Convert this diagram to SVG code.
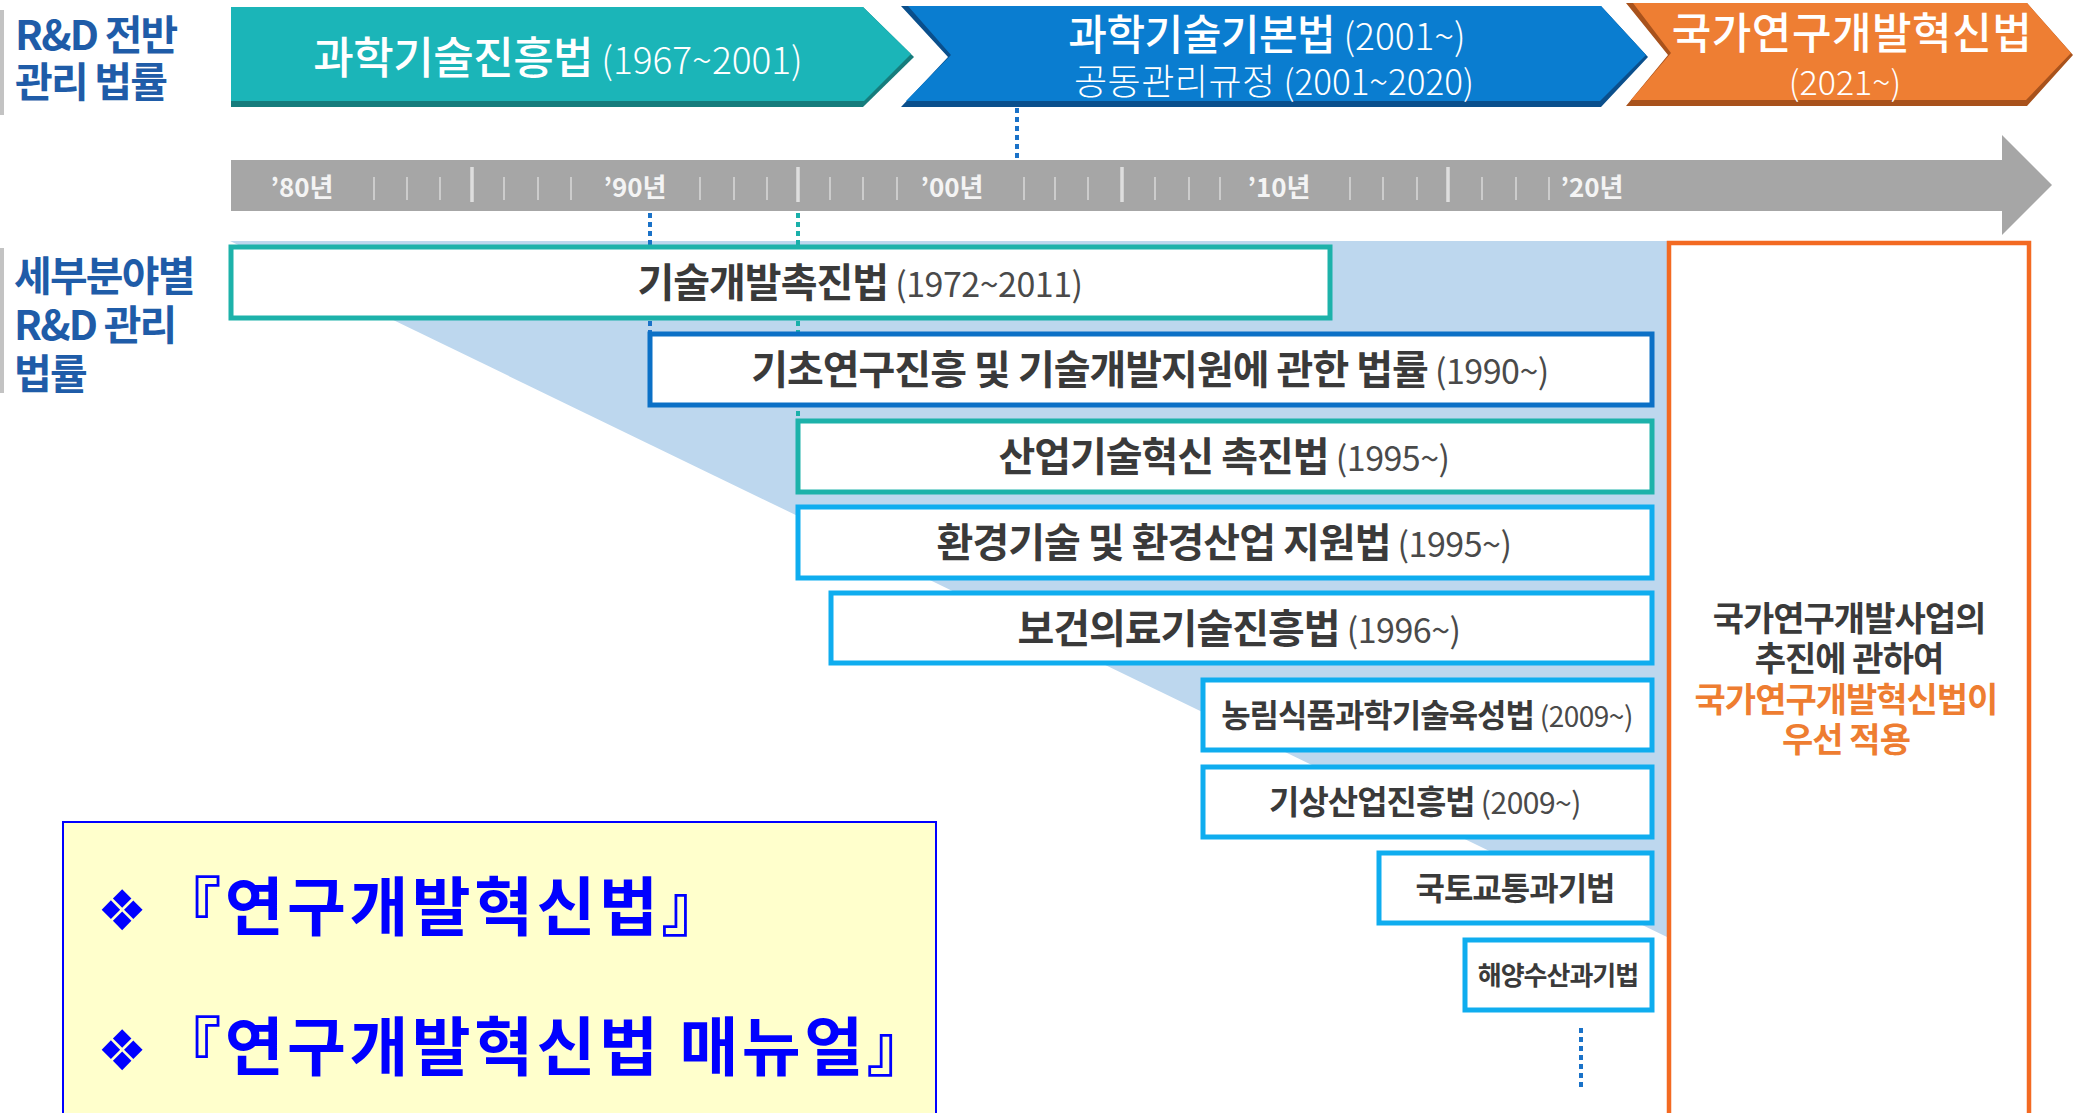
<svg xmlns="http://www.w3.org/2000/svg" width="2073" height="1113" viewBox="0 0 2073 1113">
<style>
text{font-family:"Noto Sans CJK KR","Noto Sans",sans-serif}
.lbl{font-weight:700;fill:#1f5ca8;font-size:41px;letter-spacing:-1.8px}
.bn{fill:#fff;text-anchor:middle}
.tk{stroke:#d6d6d6;stroke-width:1.6}
.tkM{stroke:#dedede;stroke-width:3.5}
.yl{fill:#f4f4f4;font-size:26px;font-weight:700;text-anchor:middle}
.bx{fill:#fff;stroke-width:5}
.bt{font-weight:700;fill:#3a3a3a;text-anchor:middle;letter-spacing:-1px}
.yr{font-weight:400;fill:#4a4a4a;letter-spacing:-0.5px}
.dotB{stroke:#1a72c8;stroke-width:4;stroke-dasharray:5 4;fill:none}
.dotT{stroke:#1ab0aa;stroke-width:4;stroke-dasharray:5 4;fill:none}
.note{font-weight:700;fill:#0000ff;font-size:64px;letter-spacing:3.5px}
</style>

<!-- left labels -->
<g id="label-general">
<rect x="0" y="10" width="4" height="105" fill="#c3c3c3"/>
<text class="lbl" x="15" y="50">R&amp;D 전반</text>
<text class="lbl" x="15" y="97">관리 법률</text>
</g>
<g id="label-detail">
<rect x="0" y="248" width="4" height="145" fill="#c3c3c3"/>
<text class="lbl" x="14" y="291">세부분야별</text>
<text class="lbl" x="14" y="340">R&amp;D 관리</text>
<text class="lbl" x="14" y="389">법률</text>
</g>

<!-- banners -->
<g id="banner-promotion">
<polygon points="231,7 863,7 914,57 863,107 231,107" fill="#167c7c"/>
<polygon points="231,7 863,7 911,54 864,101 231,101" fill="#1bb5b8"/>
<text class="bn" x="558" y="74"><tspan font-size="44" font-weight="500" letter-spacing="-0.5">과학기술진흥법</tspan><tspan font-size="37" font-weight="300"> (1967~2001)</tspan></text>
</g>
<g id="banner-basic">
<polygon points="901,6 1601,6 1648,57 1601,107 901,107 948,57" fill="#0a4f8c"/>
<polygon points="908,6 1601,6 1646,55 1600,101 906,101 951,55" fill="#0a7dd0"/>
<text class="bn" x="1267" y="50"><tspan font-size="42" font-weight="500" letter-spacing="-0.5">과학기술기본법</tspan><tspan font-size="37" font-weight="300"> (2001~)</tspan></text>
<text class="bn" x="1274" y="95" font-weight="300"><tspan font-size="36" letter-spacing="0.5">공동관리규정</tspan><tspan font-size="35"> (2001~2020)</tspan></text>
</g>
<g id="banner-innovation">
<polygon points="1626,3 2027,3 2073,55 2027,106 1626,106 1668,55" fill="#a8521c"/>
<polygon points="1633,3 2027,3 2071,53 2026,100 1631,100 1671,53" fill="#ee7e33"/>
<text class="bn" x="1852" y="49" font-size="43" font-weight="500" letter-spacing="0.5">국가연구개발혁신법</text>
<text class="bn" x="1845" y="95" font-size="34" font-weight="300">(2021~)</text>
</g>

<!-- timeline -->
<g id="timeline">
<polygon points="231,160 2002,160 2002,135 2052,185 2002,235 2002,211 231,211" fill="#a6a6a6"/>
<g class="tk">
<line x1="374" y1="177" x2="374" y2="200"/><line x1="407" y1="177" x2="407" y2="200"/><line x1="440" y1="177" x2="440" y2="200"/>
<line x1="504" y1="177" x2="504" y2="200"/><line x1="538" y1="177" x2="538" y2="200"/><line x1="571" y1="177" x2="571" y2="200"/>
<line x1="700" y1="177" x2="700" y2="200"/><line x1="734" y1="177" x2="734" y2="200"/><line x1="767" y1="177" x2="767" y2="200"/>
<line x1="830" y1="177" x2="830" y2="200"/><line x1="863" y1="177" x2="863" y2="200"/><line x1="897" y1="177" x2="897" y2="200"/>
<line x1="1024" y1="177" x2="1024" y2="200"/><line x1="1055" y1="177" x2="1055" y2="200"/><line x1="1088" y1="177" x2="1088" y2="200"/>
<line x1="1155" y1="177" x2="1155" y2="200"/><line x1="1189" y1="177" x2="1189" y2="200"/><line x1="1220" y1="177" x2="1220" y2="200"/>
<line x1="1350" y1="177" x2="1350" y2="200"/><line x1="1383" y1="177" x2="1383" y2="200"/><line x1="1417" y1="177" x2="1417" y2="200"/>
<line x1="1482" y1="177" x2="1482" y2="200"/><line x1="1516" y1="177" x2="1516" y2="200"/><line x1="1549" y1="177" x2="1549" y2="200"/>
</g>
<g class="tkM">
<line x1="472" y1="167" x2="472" y2="202"/><line x1="798" y1="167" x2="798" y2="202"/>
<line x1="1122" y1="167" x2="1122" y2="202"/><line x1="1448" y1="167" x2="1448" y2="202"/>
</g>
<text class="yl" x="302" y="197">’80년</text>
<text class="yl" x="635" y="197">’90년</text>
<text class="yl" x="952" y="197">’00년</text>
<text class="yl" x="1279" y="197">’10년</text>
<text class="yl" x="1592" y="197">’20년</text>
</g>

<!-- light blue scope -->
<polygon id="scope" points="230,241 1667,241 1667,937" fill="#bdd7ee"/>

<!-- connectors -->
<g id="connectors">
<line class="dotB" x1="1017" y1="108" x2="1017" y2="160"/>
<line class="dotB" x1="650" y1="213" x2="650" y2="334"/>
<line class="dotT" x1="798" y1="213" x2="798" y2="421"/>
<line class="dotB" x1="1581" y1="1028" x2="1581" y2="1090"/>
</g>

<!-- law boxes -->
<g id="law-1972">
<rect class="bx" x="231" y="247" width="1099" height="71" stroke="#1db2aa"/>
<text class="bt" x="860" y="297" font-size="40">기술개발촉진법<tspan class="yr" font-size="34"> (1972~2011)</tspan></text>
</g>
<g id="law-1990">
<rect class="bx" x="650" y="334" width="1002" height="71" stroke="#0b70c6"/>
<text class="bt" x="1150" y="384" font-size="40">기초연구진흥 및 기술개발지원에 관한 법률<tspan class="yr" font-size="34"> (1990~)</tspan></text>
</g>
<g id="law-1995a">
<rect class="bx" x="798" y="421" width="854" height="71" stroke="#1db2aa"/>
<text class="bt" x="1224" y="471" font-size="40">산업기술혁신 촉진법<tspan class="yr" font-size="34"> (1995~)</tspan></text>
</g>
<g id="law-1995b">
<rect class="bx" x="798" y="507" width="854" height="71" stroke="#0fadef"/>
<text class="bt" x="1224" y="557" font-size="40">환경기술 및 환경산업 지원법<tspan class="yr" font-size="34"> (1995~)</tspan></text>
</g>
<g id="law-1996">
<rect class="bx" x="831" y="593" width="821" height="70" stroke="#0fadef"/>
<text class="bt" x="1239" y="643" font-size="40">보건의료기술진흥법<tspan class="yr" font-size="34"> (1996~)</tspan></text>
</g>
<g id="law-2009a">
<rect class="bx" x="1203" y="680" width="449" height="70" stroke="#0fadef"/>
<text class="bt" x="1427" y="727" font-size="32">농림식품과학기술육성법<tspan class="yr" font-size="28"> (2009~)</tspan></text>
</g>
<g id="law-2009b">
<rect class="bx" x="1203" y="767" width="449" height="70" stroke="#0fadef"/>
<text class="bt" x="1425" y="814" font-size="33">기상산업진흥법<tspan class="yr" font-size="30"> (2009~)</tspan></text>
</g>
<g id="law-land">
<rect class="bx" x="1379" y="853" width="273" height="70" stroke="#0fadef"/>
<text class="bt" x="1515" y="900" font-size="32">국토교통과기법</text>
</g>
<g id="law-ocean">
<rect class="bx" x="1465" y="940" width="187" height="70" stroke="#0fadef"/>
<text class="bt" x="1558" y="985" font-size="26">해양수산과기법</text>
</g>

<!-- priority box -->
<g id="priority">
<rect x="1669" y="243" width="360" height="900" fill="#fff" stroke="#f36a22" stroke-width="4.5"/>
<text class="bt" x="1849" y="631" font-size="34">국가연구개발사업의</text>
<text class="bt" x="1849" y="671" font-size="34">추진에 관하여</text>
<text class="bt" x="1846" y="712" font-size="34" style="fill:#ee7d31">국가연구개발혁신법이</text>
<text class="bt" x="1846" y="752" font-size="34" style="fill:#ee7d31">우선 적용</text>
</g>

<!-- note box -->
<g id="note">
<rect x="63" y="822" width="873" height="320" fill="#ffffcc" stroke="#0000ff" stroke-width="2"/>
<text class="note" x="97" y="930"><tspan font-family="DejaVu Sans" font-size="56" letter-spacing="0">❖</tspan><tspan dx="10">『연구개발혁신법』</tspan></text>
<text class="note" x="97" y="1070"><tspan font-family="DejaVu Sans" font-size="56" letter-spacing="0">❖</tspan><tspan dx="10">『연구개발혁신법 매뉴얼』</tspan></text>
</g>
</svg>
